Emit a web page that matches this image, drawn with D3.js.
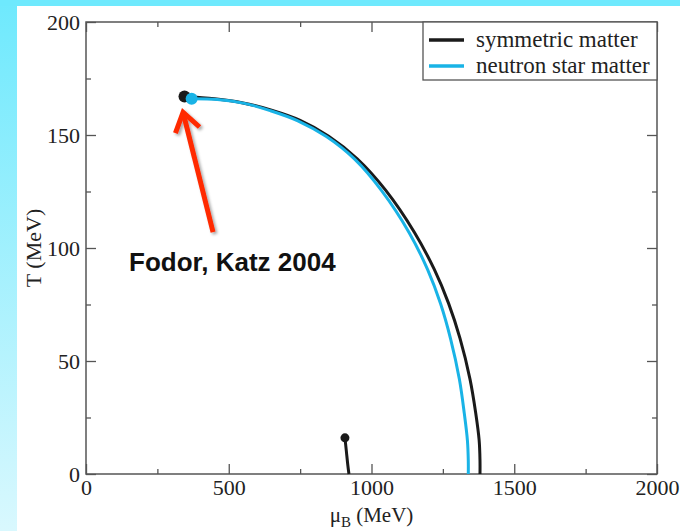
<!DOCTYPE html>
<html>
<head>
<meta charset="utf-8">
<script src="https://cdn.jsdelivr.net/npm/d3@7"></script>
<style>
  html, body { margin: 0; padding: 0; background: #fff; }
  svg { display: block; }
</style>
</head>
<body>
<svg id="chart" width="680" height="531"></svg>
<script>
// Phase boundary T(mu_B): chemical potential (MeV) and temperature (MeV)
const symmetricMu = [345, 450, 550, 650, 750, 850, 950, 1050, 1150, 1220, 1270, 1310, 1345, 1365, 1377, 1380, 1380];
const symmetricT  = [167, 166, 164.2, 161, 156.5, 149.5, 139.5, 125.5, 107, 90.5, 75.5, 60, 42, 27, 15, 6, 0];

const neutronMu = [370, 460, 555, 645, 742, 842, 941, 1036, 1132, 1197, 1242, 1277, 1308, 1325, 1336, 1339, 1339];
const neutronT  = [166, 165.7, 164, 160.8, 156.3, 149.3, 139.3, 125.3, 106.8, 90.3, 75.3, 59.8, 41.8, 26.8, 14.8, 6, 0];

// Low-temperature liquid-gas branch
const liquidGasMu = [907, 912, 917, 921];
const liquidGasT  = [16, 10, 4, 0];

// Critical end points
const endPoints = [
  { mu: 345, T: 167, series: "sym", r: 6 },
  { mu: 370, T: 166, series: "ns", r: 6 },
  { mu: 907, T: 16, series: "sym", r: 4.5 }
];

const xMajor = [0, 500, 1000, 1500, 2000];
const xMinor = [250, 750, 1250, 1750];
const yMajor = [0, 50, 100, 150, 200];
const yMinor = [25, 75, 125, 175];

const seriesNames = ["symmetric matter", "neutron star matter"];
const annotation = "Fodor, Katz 2004";
// arrow from label up to the lattice end point (mu, T)
const arrowTail = { mu: 445, T: 107 };
const arrowHead = { mu: 340, T: 160 };

const colors = { sym: "#1a1a1a", ns: "#19b3e6" };

const svg = d3.select("#chart");
const W = 680, H = 531;

// page background: cyan bands along top and left edge
const defs = svg.append("defs");
const grad = defs.append("linearGradient").attr("id", "sideGrad")
  .attr("x1", 0).attr("y1", 0).attr("x2", 0).attr("y2", 1);
grad.append("stop").attr("offset", "0%").attr("stop-color", "#6ee9fd");
grad.append("stop").attr("offset", "100%").attr("stop-color", "#d9f8fe");
svg.append("rect").attr("width", W).attr("height", H).attr("fill", "#fff");
svg.append("rect").attr("x", 0).attr("y", 0).attr("width", 17).attr("height", H).attr("fill", "url(#sideGrad)");
svg.append("rect").attr("x", 0).attr("y", 0).attr("width", W).attr("height", 6).attr("fill", "#6ee9fd");

const shadow = defs.append("filter").attr("id", "shadow")
  .attr("x", "-50%").attr("y", "-50%").attr("width", "200%").attr("height", "200%");
shadow.append("feDropShadow").attr("dx", 2).attr("dy", 2).attr("stdDeviation", 1.5)
  .attr("flood-color", "#000").attr("flood-opacity", 0.35);

const x = d3.scaleLinear().domain([0, 2000]).range([86, 657]);
const y = d3.scaleLinear().domain([0, 200]).range([474, 22]);

const serif = "'Liberation Serif', 'DejaVu Serif', serif";
const axisColor = "#555";

function styleAxis(g, showText) {
  g.select(".domain").remove();
  g.selectAll(".tick line").attr("stroke", axisColor).attr("stroke-width", 1.3);
  g.selectAll(".tick text")
    .attr("font-family", serif).attr("font-size", 22).attr("fill", "#222")
    .style("display", showText ? null : "none");
}

// bottom axis
svg.append("g").attr("transform", `translate(0,${y(0)})`)
  .call(d3.axisBottom(x).tickValues(xMajor).tickSize(-10).tickPadding(5).tickFormat(d3.format("d")))
  .call(g => styleAxis(g, true));
svg.append("g").attr("transform", `translate(0,${y(0)})`)
  .call(d3.axisBottom(x).tickValues(xMinor).tickSize(-5).tickFormat(""))
  .call(g => styleAxis(g, false));
// top axis (mirror ticks)
svg.append("g").attr("transform", `translate(0,${y(200)})`)
  .call(d3.axisTop(x).tickValues(xMajor).tickSize(-10).tickFormat(""))
  .call(g => styleAxis(g, false));
svg.append("g").attr("transform", `translate(0,${y(200)})`)
  .call(d3.axisTop(x).tickValues(xMinor).tickSize(-5).tickFormat(""))
  .call(g => styleAxis(g, false));
// left axis
svg.append("g").attr("transform", `translate(${x(0)},0)`)
  .call(d3.axisLeft(y).tickValues(yMajor).tickSize(-10).tickPadding(6).tickFormat(d3.format("d")))
  .call(g => styleAxis(g, true));
svg.append("g").attr("transform", `translate(${x(0)},0)`)
  .call(d3.axisLeft(y).tickValues(yMinor).tickSize(-5).tickFormat(""))
  .call(g => styleAxis(g, false));
// right axis (mirror ticks)
svg.append("g").attr("transform", `translate(${x(2000)},0)`)
  .call(d3.axisRight(y).tickValues(yMajor).tickSize(-10).tickFormat(""))
  .call(g => styleAxis(g, false));
svg.append("g").attr("transform", `translate(${x(2000)},0)`)
  .call(d3.axisRight(y).tickValues(yMinor).tickSize(-5).tickFormat(""))
  .call(g => styleAxis(g, false));

// plot frame
svg.append("rect")
  .attr("x", x(0)).attr("y", y(200))
  .attr("width", x(2000) - x(0)).attr("height", y(0) - y(200))
  .attr("fill", "none").attr("stroke", axisColor).attr("stroke-width", 1.5);

// axis titles
svg.append("text")
  .attr("transform", `translate(41,${(y(0) + y(200)) / 2}) rotate(-90)`)
  .attr("text-anchor", "middle").attr("font-family", serif).attr("font-size", 22).attr("fill", "#222")
  .text("T (MeV)");
const xt = svg.append("text")
  .attr("x", (x(0) + x(2000)) / 2).attr("y", 522)
  .attr("text-anchor", "middle").attr("font-family", serif).attr("font-size", 21).attr("fill", "#222");
xt.append("tspan").text("μ");
xt.append("tspan").attr("font-size", 15).attr("dy", 5).text("B");
xt.append("tspan").attr("dy", -5).text(" (MeV)");

// curves
const line = d3.line().x(d => x(d[0])).y(d => y(d[1])).curve(d3.curveCatmullRom.alpha(0.5));
const zip = (a, b) => a.map((v, i) => [v, b[i]]);

svg.append("path").datum(zip(symmetricMu, symmetricT))
  .attr("d", line).attr("fill", "none").attr("stroke", colors.sym).attr("stroke-width", 3);
svg.append("path").datum(zip(neutronMu, neutronT))
  .attr("d", line).attr("fill", "none").attr("stroke", colors.ns).attr("stroke-width", 3);
svg.append("path").datum(zip(liquidGasMu, liquidGasT))
  .attr("d", line).attr("fill", "none").attr("stroke", colors.sym).attr("stroke-width", 3);

svg.selectAll("circle.end").data(endPoints).join("circle")
  .attr("class", "end")
  .attr("cx", d => x(d.mu)).attr("cy", d => y(d.T))
  .attr("r", d => d.r)
  .attr("fill", d => colors[d.series]);

// legend
const lg = svg.append("g");
lg.append("rect").attr("x", 423).attr("y", y(200)).attr("width", x(2000) - 423).attr("height", 58)
  .attr("fill", "#fff").attr("stroke", axisColor).attr("stroke-width", 1.3);
seriesNames.forEach((name, i) => {
  const ly = 40 + i * 26;
  lg.append("line").attr("x1", 429).attr("x2", 464).attr("y1", ly).attr("y2", ly)
    .attr("stroke", i === 0 ? colors.sym : colors.ns).attr("stroke-width", 3.5);
  lg.append("text").attr("x", 476).attr("y", ly + 7)
    .attr("font-family", serif).attr("font-size", 23).attr("fill", "#222").text(name);
});

// annotation arrow
const ax0 = x(arrowTail.mu), ay0 = y(arrowTail.T), ax1 = x(arrowHead.mu), ay1 = y(arrowHead.T);
const ang = Math.atan2(ay1 - ay0, ax1 - ax0);
const hl = 22, ha = 0.6;
const arrow = svg.append("g").attr("filter", "url(#shadow)");
arrow.append("line").attr("x1", ax0).attr("y1", ay0).attr("x2", ax1).attr("y2", ay1)
  .attr("stroke", "#ff2a00").attr("stroke-width", 5).attr("stroke-linecap", "butt");
arrow.append("path")
  .attr("d", `M${ax1 - hl * Math.cos(ang - ha)},${ay1 - hl * Math.sin(ang - ha)} L${ax1},${ay1} L${ax1 - hl * Math.cos(ang + ha)},${ay1 - hl * Math.sin(ang + ha)}`)
  .attr("fill", "none").attr("stroke", "#ff2a00").attr("stroke-width", 5)
  .attr("stroke-linejoin", "miter").attr("stroke-linecap", "butt");

svg.append("text").attr("x", 129).attr("y", 271)
  .attr("font-family", "'Liberation Sans', Arial, sans-serif").attr("font-weight", "bold")
  .attr("font-size", 26).attr("fill", "#111").text(annotation);
</script>
</body>
</html>
